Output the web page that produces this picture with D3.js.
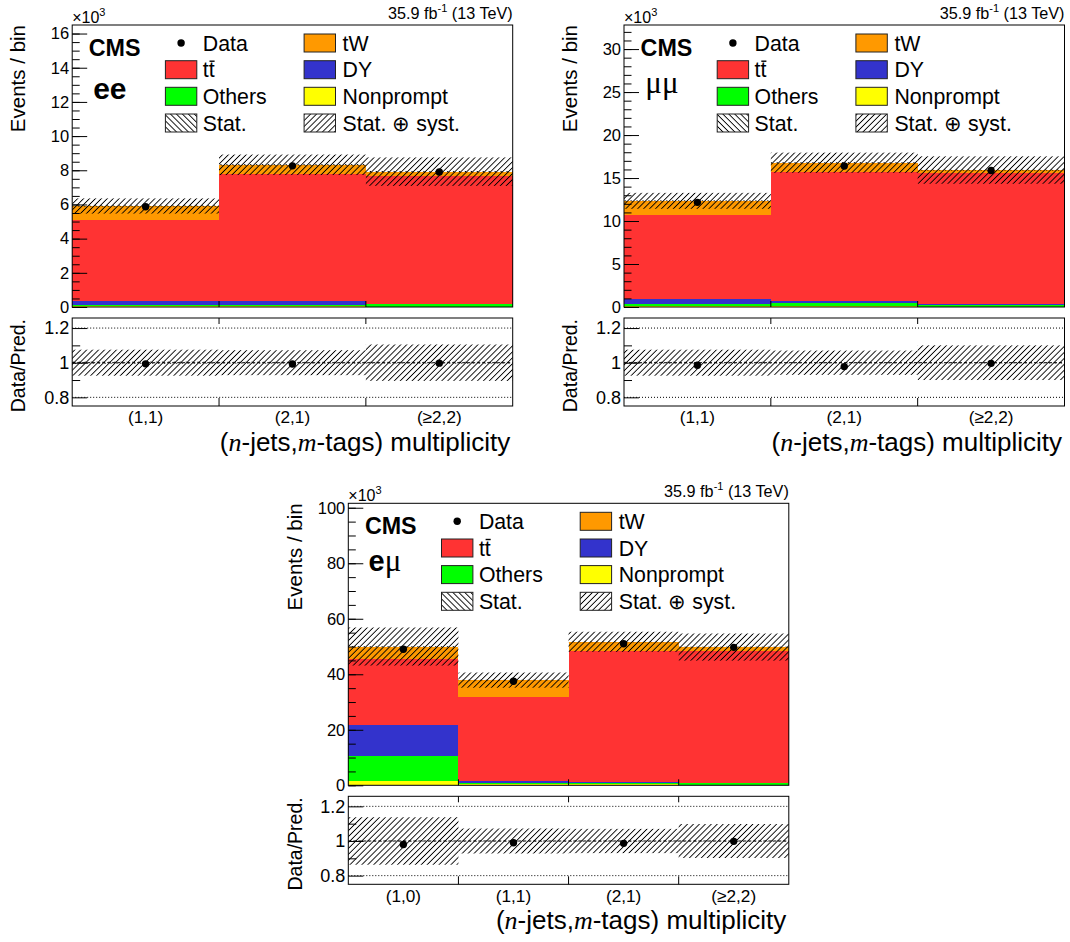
<!DOCTYPE html>
<html><head><meta charset="utf-8">
<script src="https://cdn.jsdelivr.net/npm/d3@7"></script>
<style>
body{margin:0;background:#fff}
svg{display:block}
text{font-family:"Liberation Sans",Arial,Helvetica,sans-serif;fill:#000}
</style>
</head><body>
<svg id="c" width="1070" height="942"></svg>
<script>
// ---------------- DATA (events in units of 10^3) ----------------
const eeBins = ["(1,1)", "(2,1)", "(\u22652,2)"];
const eeNonprompt = [0.03, 0.03, 0.02];
const eeOthers    = [0.08, 0.10, 0.13];
const eeDY        = [0.24, 0.22, 0.03];
const eeTT        = [4.74, 7.44, 7.51];
const eeTW        = [0.82, 0.53, 0.23];
const eeData      = [5.87, 8.26, 7.90];
const eeSystRel   = [0.075, 0.072, 0.105];
const eeStatRel   = [0.006, 0.005, 0.005];

const mmBins = ["(1,1)", "(2,1)", "(\u22652,2)"];
const mmNonprompt = [0.12, 0.15, 0.05];
const mmOthers    = [0.18, 0.28, 0.20];
const mmDY        = [0.60, 0.32, 0.05];
const mmTT        = [9.79, 14.98, 15.25];
const mmTW        = [1.66, 1.05, 0.38];
const mmData      = [12.17, 16.40, 15.87];
const mmSystRel   = [0.075, 0.070, 0.100];
const mmStatRel   = [0.005, 0.004, 0.004];

const emBins = ["(1,0)", "(1,1)", "(2,1)", "(\u22652,2)"];
const emNonprompt = [1.4, 0.3, 0.3, 0.2];
const emOthers    = [9.0, 0.5, 0.6, 0.5];
const emDY        = [11.5, 0.6, 0.2, 0.1];
const emTT        = [23.5, 30.45, 47.3, 47.6];
const emTW        = [4.6, 6.05, 3.3, 1.4];
const emData      = [49.0, 37.5, 51.0, 49.7];
const emSystRel   = [0.137, 0.072, 0.070, 0.098];
const emStatRel   = [0.003, 0.003, 0.003, 0.003];

const eeMajorTicks = [0, 2, 4, 6, 8, 10, 12, 14, 16];
const mmMajorTicks = [0, 5, 10, 15, 20, 25, 30];
const emMajorTicks = [0, 20, 40, 60, 80, 100];
const ratioMajorTicks = [0.8, 1, 1.2];
const ratioMinorTicks = [0.9, 1.1];

const legendLabels = ["Data", "tW", "tt", "DY", "Others", "Nonprompt", "Stat.", "Stat. \u2295 syst."];

// ---------------- DRAWING ----------------
const svg = d3.select('#c');
const defs = svg.append('defs');
function makeHatch(id, angle) {
  const p = defs.append('pattern').attr('id', id)
    .attr('patternUnits', 'userSpaceOnUse')
    .attr('width', 4.2).attr('height', 10)
    .attr('patternTransform', `rotate(${angle})`);
  p.append('line').attr('x1', 2.1).attr('y1', -1).attr('x2', 2.1).attr('y2', 11)
    .attr('stroke', '#000').attr('stroke-width', 0.9);
}
makeHatch('hF', 45);
makeHatch('hB', -45);

const KEYS = ['np', 'others', 'dy', 'tt', 'tw'];
const COLORS = {np: '#ffff00', others: '#00ff00', dy: '#3333cc', tt: '#ff3333', tw: '#ff9900'};
const FONT = '"Liberation Sans", Arial, Helvetica, sans-serif';
const SERIF = '"Liberation Serif", "Times New Roman", serif';

const W = 440.5, H = 282, RH = 88, GAP = 11;

function styleAxis(ga, size) {
  ga.attr('font-family', FONT).attr('font-size', size);
  ga.select('.domain').remove();
  ga.selectAll('line').attr('stroke', '#000');
  ga.selectAll('text').attr('fill', '#000');
}

function drawPanel(p) {
  const g = svg.append('g');
  const x = d3.scaleBand().domain(p.bins).range([p.left, p.left + W]);
  const y = d3.scaleLinear().domain([0, p.ymax]).range([p.top + H, p.top]);
  const rTop = p.top + H + GAP;
  const yr = d3.scaleLinear().domain([0.75, 1.258]).range([rTop + RH, rTop]);

  const rows = p.bins.map((b, i) => {
    const o = {bin: b};
    KEYS.forEach(k => o[k] = p.series[k][i]);
    return o;
  });
  const stacked = d3.stack().keys(KEYS)(rows);
  const totals = rows.map(r => d3.sum(KEYS, k => r[k]));

  // stacked histogram
  stacked.forEach(s => {
    g.append('g').selectAll('rect').data(s).join('rect')
      .attr('x', d => x(d.data.bin)).attr('width', x.bandwidth())
      .attr('y', d => y(d[1])).attr('height', d => Math.max(0, y(d[0]) - y(d[1])))
      .attr('fill', COLORS[s.key]).attr('shape-rendering', 'crispEdges');
  });

  // uncertainty bands
  function band(gg, sc, center, rel, fill) {
    gg.append('g').selectAll('rect').data(p.bins).join('rect')
      .attr('x', b => x(b)).attr('width', x.bandwidth())
      .attr('y', (b, i) => sc(center(i) * (1 + rel[i])))
      .attr('height', (b, i) => sc(center(i) * (1 - rel[i])) - sc(center(i) * (1 + rel[i])))
      .attr('fill', fill);
  }
  band(g, y, i => totals[i], p.syst, 'url(#hF)');
  band(g, y, i => totals[i], p.stat, 'url(#hB)');

  // data points
  g.append('g').selectAll('circle').data(p.bins).join('circle')
    .attr('cx', b => x(b) + x.bandwidth() / 2)
    .attr('cy', (b, i) => y(p.data[i]))
    .attr('r', 3.7).attr('fill', '#000');

  // frame
  g.append('rect').attr('x', p.left).attr('y', p.top).attr('width', W).attr('height', H)
    .attr('fill', 'none').attr('stroke', '#000').attr('stroke-width', 1);

  // y axis main
  const ga = g.append('g').attr('transform', `translate(${p.left},0)`)
    .call(d3.axisLeft(y).tickValues(p.major).tickSizeInner(-15).tickSizeOuter(0).tickPadding(3).tickFormat(d3.format('d')));
  styleAxis(ga, 16.5);
  const gm = g.append('g').attr('transform', `translate(${p.left},0)`)
    .call(d3.axisLeft(y).tickValues(d3.range(0, p.ymax, p.minorStep)).tickSizeInner(-7.5).tickSizeOuter(0).tickFormat(''));
  styleAxis(gm, 10);

  // bin boundary ticks
  const inner = p.bins.slice(1);
  g.append('g').selectAll('line').data(inner).join('line')
    .attr('x1', b => x(b)).attr('x2', b => x(b))
    .attr('y1', p.top + H).attr('y2', p.top + H - 6).attr('stroke', '#000');

  // ×10^3 and lumi
  const t3 = g.append('text').attr('x', p.left).attr('y', p.top - 2).attr('font-size', 16);
  t3.append('tspan').text('\u00d710');
  t3.append('tspan').attr('dy', -7).attr('font-size', 11).text('3');
  const tl = g.append('text').attr('x', p.left + W).attr('y', p.top - 6)
    .attr('text-anchor', 'end').attr('font-size', 16.2);
  tl.append('tspan').text('35.9 fb');
  tl.append('tspan').attr('dy', -7).attr('font-size', 11).text('-1');
  tl.append('tspan').attr('dy', 7).text(' (13 TeV)');

  // CMS + channel
  g.append('text').attr('x', p.left + 16.6).attr('y', p.top + 31).attr('font-size', 23.3)
    .attr('font-weight', 'bold').text('CMS');
  const ch = g.append('text').attr('x', p.left + p.chX).attr('y', p.top + p.chY);
  p.channel.forEach(c => ch.append('tspan').attr('font-family', c.serif ? SERIF : FONT)
    .attr('font-weight', c.serif ? 'normal' : 'bold').attr('font-size', c.size).text(c.t));

  // y title
  g.append('text').attr('transform', `translate(${p.ytX},${p.top}) rotate(-90)`)
    .attr('text-anchor', 'end').attr('font-size', 20.5).text('Events / bin');

  // legend
  const rowsY = [18, 44.7, 71.3, 98];
  const colBox = [93.2, 231.9];
  const colTxt = [130.6, 270.4];
  const legendItems = [
    {type: 'data'}, {type: 'box', fill: COLORS.tw},
    {type: 'box', fill: COLORS.tt, tt: true}, {type: 'box', fill: COLORS.dy},
    {type: 'box', fill: COLORS.others}, {type: 'box', fill: COLORS.np},
    {type: 'box', fill: 'url(#hB)'}, {type: 'box', fill: 'url(#hF)'}
  ];
  legendItems.forEach((it, i) => {
    const c = i % 2, r = Math.floor(i / 2);
    const cy = p.top + rowsY[r];
    const bx = p.left + colBox[c];
    if (it.type === 'data') {
      g.append('circle').attr('cx', bx + 15.7).attr('cy', cy).attr('r', 3.7).attr('fill', '#000');
    } else {
      g.append('rect').attr('x', bx).attr('y', cy - 9).attr('width', 31.4).attr('height', 18)
        .attr('fill', '#fff').attr('stroke', 'none');
      g.append('rect').attr('x', bx).attr('y', cy - 9).attr('width', 31.4).attr('height', 18)
        .attr('fill', it.fill).attr('stroke', '#222').attr('stroke-width', 1);
    }
    const tx = g.append('text').attr('x', p.left + colTxt[c]).attr('y', cy + 7.5).attr('font-size', 21.3);
    if (it.tt) {
      tx.append('tspan').text('t');
      tx.append('tspan').text('t');
      g.append('line').attr('x1', p.left + colTxt[c] + 6.7).attr('x2', p.left + colTxt[c] + 11.8)
        .attr('y1', cy - 8.5).attr('y2', cy - 8.5).attr('stroke', '#000').attr('stroke-width', 1.4);
    } else {
      tx.text(legendLabels[i]);
    }
  });

  // ---------------- ratio pad ----------------
  const gr = svg.append('g');
  band(gr, yr, i => 1, p.syst, 'url(#hF)');
  band(gr, yr, i => 1, p.stat, 'url(#hB)');
  [0.8, 1.2].forEach(v => gr.append('line').attr('x1', p.left).attr('x2', p.left + W)
    .attr('y1', yr(v)).attr('y2', yr(v)).attr('stroke', '#000').attr('stroke-width', 1)
    .attr('stroke-dasharray', '1,2'));
  gr.append('line').attr('x1', p.left).attr('x2', p.left + W)
    .attr('y1', yr(1)).attr('y2', yr(1)).attr('stroke', '#000').attr('stroke-width', 1)
    .attr('stroke-dasharray', '3,2');
  gr.append('g').selectAll('circle').data(p.bins).join('circle')
    .attr('cx', b => x(b) + x.bandwidth() / 2)
    .attr('cy', (b, i) => yr(p.data[i] / totals[i]))
    .attr('r', 3.7).attr('fill', '#000');
  gr.append('rect').attr('x', p.left).attr('y', rTop).attr('width', W).attr('height', RH)
    .attr('fill', 'none').attr('stroke', '#000').attr('stroke-width', 1);
  const gra = gr.append('g').attr('transform', `translate(${p.left},0)`)
    .call(d3.axisLeft(yr).tickValues(ratioMajorTicks).tickSizeInner(-15).tickSizeOuter(0).tickPadding(3).tickFormat(d3.format('~g')));
  styleAxis(gra, 18);
  const grm = gr.append('g').attr('transform', `translate(${p.left},0)`)
    .call(d3.axisLeft(yr).tickValues(ratioMinorTicks).tickSizeInner(-8).tickSizeOuter(0).tickFormat(''));
  styleAxis(grm, 10);
  gr.append('g').selectAll('line').data(inner).join('line')
    .attr('x1', b => x(b)).attr('x2', b => x(b))
    .attr('y1', rTop).attr('y2', rTop + 6).attr('stroke', '#000');
  gr.append('g').selectAll('line').data(inner).join('line')
    .attr('x1', b => x(b)).attr('x2', b => x(b))
    .attr('y1', rTop + RH).attr('y2', rTop + RH - 8).attr('stroke', '#000');
  const gx = gr.append('g').attr('transform', `translate(0,${rTop + RH})`)
    .call(d3.axisBottom(x).tickSize(0).tickPadding(5));
  styleAxis(gx, 17.2);

  gr.append('text').attr('transform', `translate(${p.ytX},${rTop + 1}) rotate(-90)`)
    .attr('text-anchor', 'end').attr('font-size', 19.5).text('Data/Pred.');

  const xt = gr.append('text').attr('x', p.left + W - 2.5).attr('y', rTop + RH + 45)
    .attr('text-anchor', 'end').attr('font-size', 26);
  xt.append('tspan').text('(');
  xt.append('tspan').attr('font-family', SERIF).attr('font-style', 'italic').text('n');
  xt.append('tspan').text('-jets,');
  xt.append('tspan').attr('font-family', SERIF).attr('font-style', 'italic').text('m');
  xt.append('tspan').text('-tags) multiplicity');
}

drawPanel({
  bins: eeBins, left: 72.2, top: 25, ymax: 16.5, major: eeMajorTicks, minorStep: 0.5,
  series: {np: eeNonprompt, others: eeOthers, dy: eeDY, tt: eeTT, tw: eeTW},
  data: eeData, syst: eeSystRel, stat: eeStatRel,
  channel: [{t: 'ee', size: 30}], chX: 21, chY: 74, ytX: 25.3
});
drawPanel({
  bins: mmBins, left: 624, top: 25, ymax: 32.8, major: mmMajorTicks, minorStep: 1,
  series: {np: mmNonprompt, others: mmOthers, dy: mmDY, tt: mmTT, tw: mmTW},
  data: mmData, syst: mmSystRel, stat: mmStatRel,
  channel: [{t: '\u03bc\u03bc', size: 31, serif: true}], chX: 21.3, chY: 68, ytX: 577
});
drawPanel({
  bins: emBins, left: 348.3, top: 503.3, ymax: 101.6, major: emMajorTicks, minorStep: 5,
  series: {np: emNonprompt, others: emOthers, dy: emDY, tt: emTT, tw: emTW},
  data: emData, syst: emSystRel, stat: emStatRel,
  channel: [{t: 'e', size: 29}, {t: '\u03bc', size: 31, serif: true}], chX: 20.2, chY: 68, ytX: 302
});
</script>
</body></html>
